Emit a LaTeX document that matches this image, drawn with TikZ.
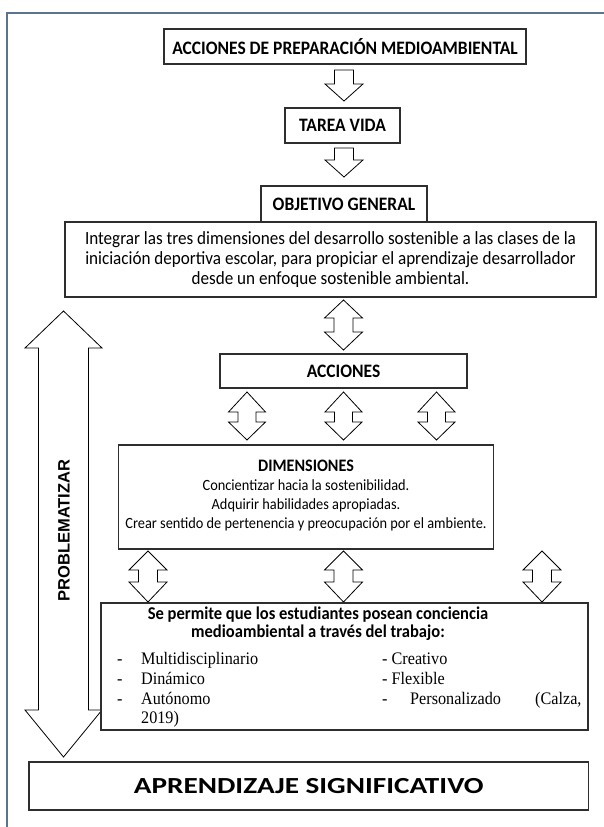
\documentclass[tikz,border=0pt]{standalone}
\usepackage{fontspec}
\setmainfont[FakeStretch=0.92]{Carlito}
\newfontfamily\tnr[FakeStretch=0.92]{Liberation Serif}
\newfontfamily\arl{Liberation Sans}
\newfontfamily\widecal[FakeStretch=1.27]{Carlito}
\definecolor{framecol}{HTML}{5B7391}
\definecolor{boxcol}{HTML}{2E2E2E}
\tikzset{
  box/.style={draw=boxcol, line width=1.2pt, fill=white, inner sep=0pt},
  blockarrow/.style={draw=black, line width=0.8pt, fill=white, line join=miter},
  body/.style={align=center, font=\fontsize{18.6}{20}\selectfont},
  head/.style={font=\fontsize{19}{20}\selectfont\bfseries},
  serif/.style={anchor=base west, inner sep=0pt, font=\tnr\fontsize{17.6}{20}\selectfont}
}
\newcommand{\downblock}[4]{\draw[blockarrow] ({#1-9.5},-#2) -- ({#1+9.5},-#2) -- ({#1+9.5},-#3) -- ({#1+19},-#3) -- (#1,-#4) -- ({#1-19},-#3) -- ({#1-9.5},-#3) -- cycle;}
\newcommand{\dblblock}[7]{\draw[blockarrow] (#1,-#2) -- ({#1+#6},-#3) -- ({#1+#7},-#3) -- ({#1+#7},-#4) -- ({#1+#6},-#4) -- (#1,-#5) -- ({#1-#6},-#4) -- ({#1-#7},-#4) -- ({#1-#7},-#3) -- ({#1-#6},-#3) -- cycle;}
\begin{document}
\begin{tikzpicture}[x=1pt,y=1pt]
\useasboundingbox (0,0) rectangle (604,-827);
\fill[white] (0,0) rectangle (604,-827);
% outer frame
\draw[framecol, line width=1.6pt] (7,-827) -- (7,-13) -- (604,-13);

% block arrows
\downblock{344}{70}{84}{101}
\downblock{344}{148}{160}{177}
\dblblock{343.5}{300}{318}{332}{350}{19}{9.5}
\dblblock{247}{392}{412}{422}{440}{18.5}{9}
\dblblock{343.5}{392}{412}{422}{440}{18.5}{9}
\dblblock{436.5}{392}{412}{422}{440}{18.5}{9}
\dblblock{148}{551}{570}{582}{602}{19}{9.5}
\dblblock{343.5}{551}{570}{582}{602}{19}{9.5}
\dblblock{542}{551}{570}{582}{602}{19}{9.5}
\dblblock{63.5}{311}{348}{710}{757}{38.5}{25}
\node[rotate=90, font=\arl\bfseries\fontsize{16.5}{19}\selectfont] (prob) at (64,-530.5) {PROBLEMATIZAR};

% boxes
\node[box, minimum width=362pt, minimum height=35pt, head] (b1) at (345,-46.5) {ACCIONES DE PREPARACIÓN MEDIOAMBIENTAL};
\node[box, minimum width=115pt, minimum height=35pt, head] (b2) at (342.5,-125.5) {TAREA VIDA};
\node[box, minimum width=531pt, minimum height=75pt] (b4) at (330.5,-259.5) {};
\node[box, minimum width=166pt, minimum height=36pt, head] (b3) at (344,-204) {OBJETIVO GENERAL};
\node[body] (t4) at (b4.center) {Integrar las tres dimensiones del desarrollo sostenible a las clases de la\\ iniciación deportiva escolar, para propiciar el aprendizaje desarrollador\\ desde un enfoque sostenible ambiental.};
\node[box, minimum width=247pt, minimum height=34pt, head] (b5) at (343.5,-371) {ACCIONES};
\node[box, minimum width=375pt, minimum height=104pt] (b6) at (306,-497) {};
\node[body, font=\fontsize{15.6}{19}\selectfont] (t6) at (306,-496) {{\fontsize{17.5}{19}\selectfont\bfseries DIMENSIONES}\\ Concientizar hacia la sostenibilidad.\\ Adquirir habilidades apropiadas.\\ Crear sentido de pertenencia y preocupación por el ambiente.};
\node[box, minimum width=487pt, minimum height=127pt] (b7) at (344.5,-666.5) {};
\node[body, font=\fontsize{18}{18}\selectfont\bfseries] (t7) at (318,-624) {Se permite que los estudiantes posean conciencia\\ medioambiental a través del trabajo:};
\node[serif] (d1) at (117,-664) {-};
\node[serif] (l1) at (141,-664) {Multidisciplinario};
\node[serif] (d2) at (117,-684) {-};
\node[serif] (l2) at (141,-684) {Dinámico};
\node[serif] (d3) at (117,-704) {-};
\node[serif] (l3) at (141,-704) {Autónomo};
\node[serif] (l4) at (141,-723) {2019)};
\node[serif] (r1) at (382,-664) {- Creativo};
\node[serif] (r2) at (382,-684) {- Flexible};
\node[serif] (d6) at (382,-704) {-};
\node[serif] (r3) at (410,-704) {Personalizado};
\node[serif] (r4) at (535,-704) {(Calza,};
\node[box, minimum width=559.5pt, minimum height=48pt, font=\widecal\bfseries\fontsize{23}{26}\selectfont] (b8) at (308.75,-786) {APRENDIZAJE SIGNIFICATIVO};
\end{tikzpicture}
\end{document}
